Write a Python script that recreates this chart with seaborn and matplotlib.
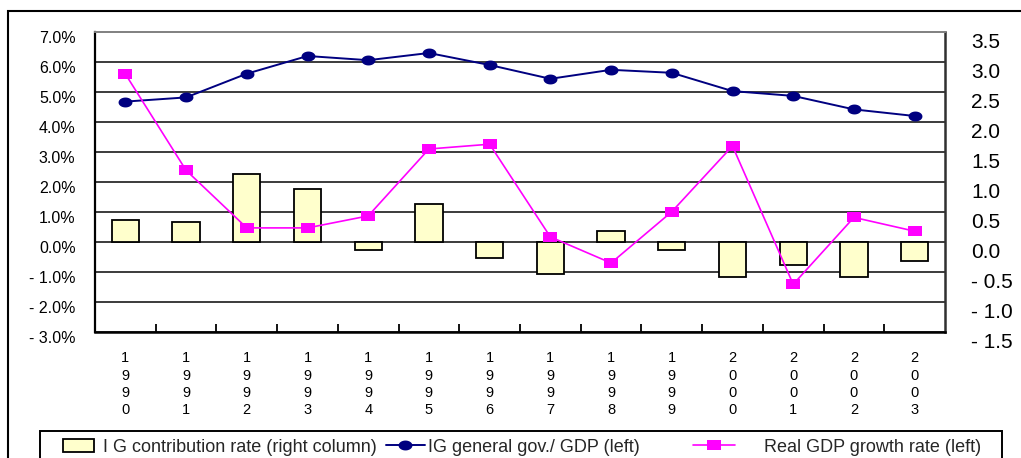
import numpy as np
import pandas as pd
import matplotlib
matplotlib.use("Agg")
import matplotlib.pyplot as plt
from matplotlib.path import Path
from matplotlib.patches import Rectangle, Patch
from matplotlib.lines import Line2D
from matplotlib.transforms import ScaledTranslation
import seaborn as sns

# ---- data -------------------------------------------------------------
years = [1990, 1991, 1992, 1993, 1994, 1995, 1996,
         1997, 1998, 1999, 2000, 2001, 2002, 2003]
# IG contribution rate (right axis, bars)
ig_contribution = [0.36, 0.33, 1.14, 0.89, -0.13, 0.64, -0.26,
                   -0.53, 0.18, -0.13, -0.59, -0.38, -0.59, -0.31]
# IG general government / GDP, % (left axis)
ig_gov_gdp = [4.68, 4.82, 5.61, 6.20, 6.06, 6.30, 5.90,
              5.44, 5.74, 5.64, 5.03, 4.87, 4.42, 4.20]
# Real GDP growth rate, % (left axis)
real_gdp_growth = [5.60, 2.39, 0.47, 0.47, 0.87, 3.10, 3.26,
                   0.17, -0.70, 1.01, 3.20, -1.41, 0.82, 0.36]

left_ticks = [-3, -2, -1, 0, 1, 2, 3, 4, 5, 6, 7]
left_labels = ["- 3.0%", "- 2.0%", "- 1.0%", "0.0%", "1.0%", "2.0%",
               "3.0%", "4.0%", "5.0%", "6.0%", "7.0%"]
right_ticks = [-1.5, -1.0, -0.5, 0.0, 0.5, 1.0, 1.5, 2.0, 2.5, 3.0, 3.5]
right_labels = ["- 1.5", "- 1.0", "- 0.5", "0.0", "0.5", "1.0",
                "1.5", "2.0", "2.5", "3.0", "3.5"]

label_bar = "I G contribution rate (right column)"
label_gov = "IG general gov./ GDP (left)"
label_gdp = "Real GDP growth rate (left)"

# ---- style ------------------------------------------------------------
sns.set_theme(style="white")
plt.rcParams["font.family"] = ["Liberation Sans", "DejaVu Sans"]

W, H = 1021, 458
fig = plt.figure(figsize=(W / 100, H / 100), dpi=100)
fig.patch.set_facecolor("white")

ax = fig.add_axes([95 / W, (H - 332) / H, 850 / W, 300 / H])
ax2 = ax.twinx()

idx = np.arange(len(years))
df = pd.DataFrame({"year": [str(y) for y in years],
                   "pos": idx,
                   "contrib": ig_contribution,
                   "gov": ig_gov_gdp,
                   "gdp": real_gdp_growth})

# horizontally stretched marker shapes
t = np.linspace(0, 2 * np.pi, 40)
ellipse = Path(np.column_stack([1.4 * np.cos(t), np.sin(t)]), closed=True)
rect = Path([(-1.4, -1), (1.4, -1), (1.4, 1), (-1.4, 1), (-1.4, -1)],
            closed=True)

bar_color = "#FFFFCC"
navy = "#000080"
magenta = "#FF00FF"

# bars on the right-hand scale
sns.barplot(data=df, x="year", y="contrib", ax=ax2, color=bar_color,
            saturation=1, edgecolor="black", linewidth=1.3, width=0.45,
            zorder=3)

# lines on the left-hand scale
sns.lineplot(data=df, x="pos", y="gov", ax=ax, color=navy, lw=1.4,
             marker=ellipse, markersize=10, markeredgewidth=0,
             markerfacecolor=navy, zorder=4)
sns.lineplot(data=df, x="pos", y="gdp", ax=ax, color=magenta, lw=1.2,
             marker=rect, markersize=10.5, markeredgewidth=0,
             markerfacecolor=magenta, zorder=5)

# lines drawn above the bars
ax.set_zorder(ax2.get_zorder() + 1)
ax.patch.set_visible(False)

# scales
ax.set_ylim(-3, 7)
ax2.set_ylim(-1.5, 3.5)
ax.set_xlim(-0.5, len(years) - 0.5)

# horizontal grid behind bars
ax2.set_axisbelow(True)
for v in right_ticks[:-1]:
    ax2.axhline(v, color="#1a1a1a", lw=1.2, zorder=0)

ax.set_yticks(left_ticks)
ax.set_yticklabels(left_labels)
ax2.set_yticks(right_ticks)
ax2.set_yticklabels(right_labels)
ax.tick_params(axis="y", length=0, pad=14, labelsize=11.5, colors="black")
ax2.tick_params(axis="y", length=0, pad=19, labelsize=15, colors="black")
for lab in ax.get_yticklabels():
    lab.set_transform(lab.get_transform() +
                      ScaledTranslation(0, -0.05, fig.dpi_scale_trans))
for lab in ax2.get_yticklabels():
    lab.set_transform(lab.get_transform() +
                      ScaledTranslation(0, -0.08, fig.dpi_scale_trans))

# stacked year digits
ax.set_xticks(idx)
ax.set_xticklabels(["\n".join(str(y)) for y in years], linespacing=1.28)
ax.set_xticks(idx[:-1] + 0.5, minor=True)
ax.tick_params(axis="x", which="major", length=0, pad=14, labelsize=10.5,
               colors="black")
ax.tick_params(axis="x", which="minor", direction="in", length=6,
               width=1.3, color="black", bottom=True)
ax.set_xlabel("")
ax.set_ylabel("")
ax2.set_ylabel("")
ax2.set_xlabel("")

for s in ax2.spines.values():
    s.set_visible(False)
ax.spines["left"].set_color("black")
ax.spines["left"].set_linewidth(1.6)
ax.spines["bottom"].set_color("black")
ax.spines["bottom"].set_linewidth(1.8)
ax.spines["top"].set_color("#808080")
ax.spines["top"].set_linewidth(1.4)
ax.spines["right"].set_color("#303030")
ax.spines["right"].set_linewidth(1.8)
for s in ax.spines.values():
    s.set_visible(True)

# legend: three entries in one framed strip along the bottom
fs = 13
entries = [
    (Patch(facecolor=bar_color, edgecolor="black", linewidth=1.3),
     label_bar, 63, 1.7, 0.5),
    (Line2D([], [], color=navy, lw=1.4, marker=ellipse, markersize=10,
            markeredgewidth=0, markerfacecolor=navy),
     label_gov, 386, 2.15, 0.15),
    (Line2D([], [], color=magenta, lw=1.2, marker=rect, markersize=10.5,
            markeredgewidth=0, markerfacecolor=magenta),
     label_gdp, 693, 2.3, 1.65),
]
for handle, text, x0, hl, htp in entries:
    fig.legend([handle], [text], loc="center left",
               bbox_to_anchor=(x0 / W, 1 - 447 / H), borderaxespad=0,
               borderpad=0, fontsize=fs, frameon=False,
               handlelength=hl, handletextpad=htp)

fig.add_artist(Rectangle((40 / W, -0.1), 962 / W, 1 - 431 / H + 0.1,
                         transform=fig.transFigure, fill=False,
                         edgecolor="black", linewidth=1.4))

# outer frame
fig.add_artist(Rectangle((7.5 / W, -0.1), 1.2, 1 - 10.5 / H + 0.1,
                         transform=fig.transFigure, fill=False,
                         edgecolor="black", linewidth=1.5))

fig.savefig("out.png", dpi=100, facecolor="white")
